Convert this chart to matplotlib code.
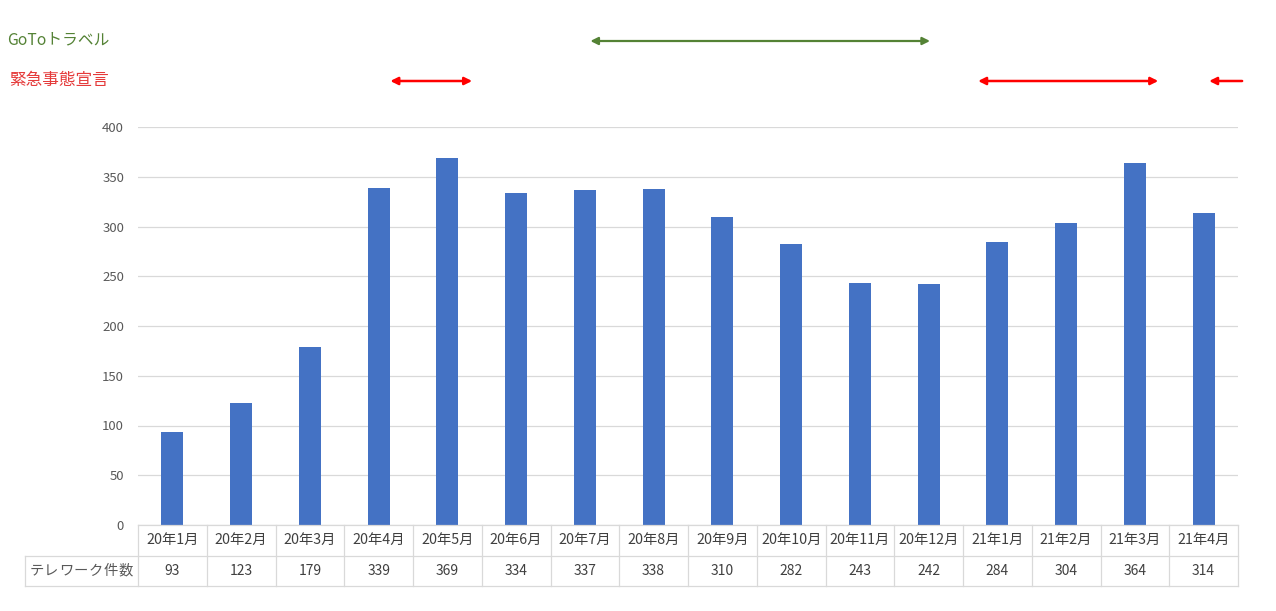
import matplotlib
matplotlib.use("Agg")
import matplotlib.pyplot as plt

plt.rcParams['font.family'] = ['Noto Sans CJK JP', 'DejaVu Sans']

months = ["20年1月", "20年2月", "20年3月", "20年4月", "20年5月", "20年6月", "20年7月", "20年8月",
          "20年9月", "20年10月", "20年11月", "20年12月", "21年1月", "21年2月", "21年3月", "21年4月"]
telework = [93, 123, 179, 339, 369, 334, 337, 338, 310, 282, 243, 242, 284, 304, 364, 314]
series_name = "テレワーク件数"
yticks = [0, 50, 100, 150, 200, 250, 300, 350, 400]

# period arrows (in category units)
goto_periods = [(6.08, 11.02)]
emergency_periods = [(3.17, 4.36), (11.72, 14.34)]
emergency_open = [(15.56, 15.08)]  # single-headed, ongoing

W, H = 1276, 611
fig = plt.figure(figsize=(W / 100, H / 100), dpi=100)

def fx(px): return px / W
def fy(py): return 1 - py / H

left, right, top, bottom = 138, 1238, 127, 525
ax = fig.add_axes([fx(left), fy(bottom), fx(right - left), fy(top) - fy(bottom)])
n = len(months)
x = list(range(n))
ax.bar(x, telework, width=0.32, color="#4472c4", zorder=3)
ax.set_xlim(-0.5, n - 0.5)
ax.set_ylim(0, 400)
ax.set_yticks(yticks)
ax.set_yticklabels([str(v) for v in yticks], color="#595959", fontsize=9.5)
ax.tick_params(axis='y', length=0, pad=10)
ax.set_xticks([])
for s in ax.spines.values():
    s.set_visible(False)
ax.grid(axis='y', color="#d9d9d9", lw=0.9, zorder=0)
ax.set_axisbelow(True)

# data table
lab_left = 25
row_h = 30.5
tab = fig.add_axes([fx(lab_left), fy(bottom + 2 * row_h), fx(right - lab_left), fy(bottom) - fy(bottom + 2 * row_h)])
cat_w = (right - left) / n
lab_w = (left - lab_left) / cat_w
tab.set_xlim(-0.5 - lab_w, n - 0.5)
tab.set_ylim(2, 0)
tab.axis('off')
lc = "#d9d9d9"
tab.plot([-0.5, n - 0.5], [0, 0], color=lc, lw=0.9, clip_on=False)
tab.plot([-0.5 - lab_w, n - 0.5], [1, 1], color=lc, lw=0.9, clip_on=False)
tab.plot([-0.5 - lab_w, n - 0.5], [2, 2], color=lc, lw=0.9, clip_on=False)
tab.plot([-0.5 - lab_w, -0.5 - lab_w], [1, 2], color=lc, lw=0.9, clip_on=False)
for i in range(n + 1):
    tab.plot([i - 0.5, i - 0.5], [0, 2], color=lc, lw=0.9, clip_on=False)
for i in range(n):
    tab.text(i, 0.5, months[i], ha='center', va='center', fontsize=10.3, color="#404040")
    tab.text(i, 1.5, str(telework[i]), ha='center', va='center', fontsize=10, color="#404040")
# letter-spaced series label (Excel style)
xs0 = -0.5 - lab_w + 4 / cat_w
step = (104 / len(series_name)) / cat_w
for k, ch in enumerate(series_name):
    tab.text(xs0 + step * (k + 0.5), 1.5, ch, ha='center', va='center', fontsize=10.3, color="#595959")

# period annotations
top_ax = fig.add_axes([fx(left), fy(100), fx(right - left), fy(20) - fy(100)])
top_ax.set_xlim(-0.5, n - 0.5)
top_ax.set_ylim(100, 20)
top_ax.axis('off')
green = "#548235"
red = "#ff0000"
for a, b in goto_periods:
    top_ax.annotate("", xy=(b, 41), xytext=(a, 41),
                    arrowprops=dict(arrowstyle='<|-|>', color=green, lw=1.6, mutation_scale=11, shrinkA=0, shrinkB=0),
                    annotation_clip=False)
for a, b in emergency_periods:
    top_ax.annotate("", xy=(b, 81), xytext=(a, 81),
                    arrowprops=dict(arrowstyle='<|-|>', color=red, lw=1.8, mutation_scale=11, shrinkA=0, shrinkB=0),
                    annotation_clip=False)
for a, b in emergency_open:
    top_ax.annotate("", xy=(b, 81), xytext=(a, 81),
                    arrowprops=dict(arrowstyle='-|>', color=red, lw=1.8, mutation_scale=11, shrinkA=0, shrinkB=0),
                    annotation_clip=False)

fig.text(fx(7), fy(40), "GoToトラベル", color=green, fontsize=11.3, ha='left', va='center')
fig.text(fx(9), fy(80), "緊急事態宣言", color="#e53a3a", fontsize=12, ha='left', va='center')

fig.savefig("out.png", dpi=100)
